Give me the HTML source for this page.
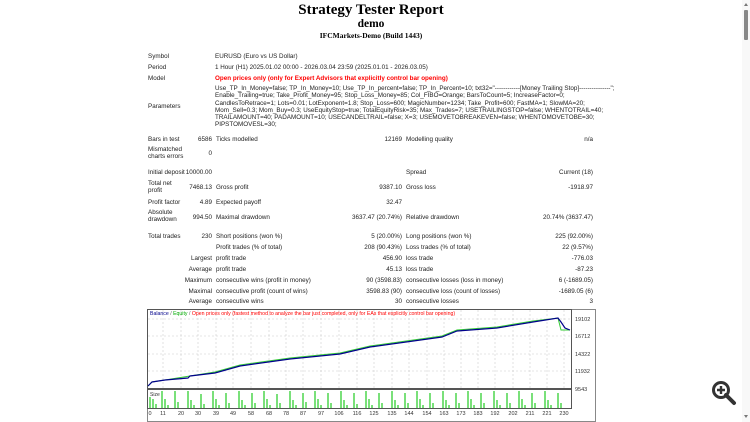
<!DOCTYPE html>
<html><head><meta charset="utf-8"><style>
body{margin:0;width:750px;height:422px;background:#fff;overflow:hidden;position:relative;font-family:"Liberation Sans",Tahoma,sans-serif;}
.t{position:absolute;font-size:6.3px;color:#222;white-space:nowrap;line-height:7.3px}
.r{text-align:right}
.h{position:absolute;left:0;width:742px;text-align:center;font-family:"Liberation Serif",serif;font-weight:bold;color:#000}
</style></head><body>
<div class="h" style="top:1px;font-size:15px;line-height:19px">Strategy Tester Report</div>
<div class="h" style="top:17px;font-size:11.5px;line-height:14px">demo</div>
<div class="h" style="top:31px;font-size:7.5px;line-height:10px">IFCMarkets-Demo (Build 1443)</div>

<div class="t" style="left:148px;top:53px">Symbol</div><div class="t" style="left:215px;top:53px">EURUSD (Euro vs US Dollar)</div>
<div class="t" style="left:148px;top:64px">Period</div><div class="t" style="left:215px;top:64px">1 Hour (H1) 2025.01.02 00:00 - 2026.03.04 23:59 (2025.01.01 - 2026.03.05)</div>
<div class="t" style="left:148px;top:75px">Model</div><div class="t" style="left:215px;top:75px;color:#f00;font-weight:bold">Open prices only (only for Expert Advisors that explicitly control bar opening)</div>
<div class="t" style="left:148px;top:103px">Parameters</div>
<div class="t" style="left:215px;top:85px">Use_TP_In_Money=false; TP_In_Money=10; Use_TP_In_percent=false; TP_In_Percent=10; txt32="------------[Money Trailing Stop]---------------";<br>Enable_Trailing=true; Take_Profit_Money=95; Stop_Loss_Money=85; Col_FIBO=Orange; BarsToCount=5; IncreaseFactor=0;<br>CandlesToRetrace=1; Lots=0.01; LotExponent=1.8; Stop_Loss=600; MagicNumber=1234; Take_Profit=600; FastMA=1; SlowMA=20;<br>Mom_Sell=0.3; Mom_Buy=0.3; UseEquityStop=true; TotalEquityRisk=35; Max_Trades=7; USETRAILINGSTOP=false; WHENTOTRAIL=40;<br>TRAILAMOUNT=40; PADAMOUNT=10; USECANDELTRAIL=false; X=3; USEMOVETOBREAKEVEN=false; WHENTOMOVETOBE=30;<br>PIPSTOMOVESL=30;</div>
<div class="t" style="left:148px;top:136px">Bars in test</div><div class="t r" style="left:160px;width:52px;top:136px">6586</div>
<div class="t" style="left:216px;top:136px">Ticks modelled</div><div class="t r" style="left:330px;width:72px;top:136px">12169</div>
<div class="t" style="left:406px;top:136px">Modelling quality</div><div class="t r" style="left:520px;width:73px;top:136px">n/a</div>
<div class="t" style="left:148px;top:146px">Mismatched<br>charts errors</div><div class="t r" style="left:160px;width:52px;top:150px">0</div>

<div class="t" style="left:148px;top:169px">Initial deposit</div><div class="t r" style="left:160px;width:52px;top:169px">10000.00</div>
<div class="t" style="left:406px;top:169px">Spread</div><div class="t r" style="left:500px;width:93px;top:169px">Current (18)</div>
<div class="t" style="left:148px;top:180px">Total net<br>profit</div><div class="t r" style="left:160px;width:52px;top:184px">7468.13</div>
<div class="t" style="left:216px;top:184px">Gross profit</div><div class="t r" style="left:330px;width:72px;top:184px">9387.10</div>
<div class="t" style="left:406px;top:184px">Gross loss</div><div class="t r" style="left:500px;width:93px;top:184px">-1918.97</div>
<div class="t" style="left:148px;top:199px">Profit factor</div><div class="t r" style="left:160px;width:52px;top:199px">4.89</div>
<div class="t" style="left:216px;top:199px">Expected payoff</div><div class="t r" style="left:330px;width:72px;top:199px">32.47</div>
<div class="t" style="left:148px;top:209px">Absolute<br>drawdown</div><div class="t r" style="left:160px;width:52px;top:214px">994.50</div>
<div class="t" style="left:216px;top:214px">Maximal drawdown</div><div class="t r" style="left:300px;width:102px;top:214px">3637.47 (20.74%)</div>
<div class="t" style="left:406px;top:214px">Relative drawdown</div><div class="t r" style="left:500px;width:93px;top:214px">20.74% (3637.47)</div>
<div class="t" style="left:148px;top:233px">Total trades</div><div class="t r" style="left:160px;width:52px;top:233px">230</div>
<div class="t" style="left:216px;top:233px">Short positions (won %)</div><div class="t r" style="left:300px;width:102px;top:233px">5 (20.00%)</div>
<div class="t" style="left:406px;top:233px">Long positions (won %)</div><div class="t r" style="left:500px;width:93px;top:233px">225 (92.00%)</div>
<div class="t" style="left:216px;top:244px">Profit trades (% of total)</div><div class="t r" style="left:300px;width:102px;top:244px">208 (90.43%)</div>
<div class="t" style="left:406px;top:244px">Loss trades (% of total)</div><div class="t r" style="left:500px;width:93px;top:244px">22 (9.57%)</div>
<div class="t r" style="left:150px;width:62px;top:255px">Largest</div><div class="t" style="left:216px;top:255px">profit trade</div><div class="t r" style="left:300px;width:102px;top:255px">456.90</div>
<div class="t" style="left:406px;top:255px">loss trade</div><div class="t r" style="left:500px;width:93px;top:255px">-776.03</div>
<div class="t r" style="left:150px;width:62px;top:266px">Average</div><div class="t" style="left:216px;top:266px">profit trade</div><div class="t r" style="left:300px;width:102px;top:266px">45.13</div>
<div class="t" style="left:406px;top:266px">loss trade</div><div class="t r" style="left:500px;width:93px;top:266px">-87.23</div>
<div class="t r" style="left:150px;width:62px;top:277px">Maximum</div><div class="t" style="left:216px;top:277px">consecutive wins (profit in money)</div><div class="t r" style="left:300px;width:102px;top:277px">90 (3598.83)</div>
<div class="t" style="left:406px;top:277px">consecutive losses (loss in money)</div><div class="t r" style="left:500px;width:93px;top:277px">6 (-1689.05)</div>
<div class="t r" style="left:150px;width:62px;top:288px">Maximal</div><div class="t" style="left:216px;top:288px">consecutive profit (count of wins)</div><div class="t r" style="left:300px;width:102px;top:288px">3598.83 (90)</div>
<div class="t" style="left:406px;top:288px">consecutive loss (count of losses)</div><div class="t r" style="left:500px;width:93px;top:288px">-1689.05 (6)</div>
<div class="t r" style="left:150px;width:62px;top:298px">Average</div><div class="t" style="left:216px;top:298px">consecutive wins</div><div class="t r" style="left:300px;width:102px;top:298px">30</div>
<div class="t" style="left:406px;top:298px">consecutive losses</div><div class="t r" style="left:500px;width:93px;top:298px">3</div>

<svg style="position:absolute;left:0;top:0" width="750" height="422" font-family="Liberation Sans, sans-serif">
<rect x="147.5" y="309.5" width="448" height="112" fill="#fff" stroke="#888"/>
<rect x="147.5" y="309.5" width="424" height="79" fill="#fff" stroke="#555"/>
<rect x="147.5" y="389.5" width="424" height="19" fill="#fff" stroke="#555"/>
<g stroke="#ccc" stroke-dasharray="2,2" stroke-width="0.6">
<path d="M148 319H571M148 336H571M148 354H571M148 371H571"/>
<path d="M163 310V388M181 310V388M198 310V388M216 310V388M233 310V388M251 310V388M269 310V388M286 310V388M303 310V388M321 310V388M339 310V388M357 310V388M374 310V388M392 310V388M409 310V388M427 310V388M444 310V388M461 310V388M478 310V388M495 310V388M513 310V388M530 310V388M547 310V388M564 310V388"/>
</g>
<g font-size="5.5" fill="#333">
<text x="575" y="321">19102</text><text x="575" y="338">16712</text><text x="575" y="356">14322</text><text x="575" y="373">11932</text><text x="575" y="391">9543</text>
</g>
<text x="150" y="315" font-size="5.2"><tspan fill="#00008b">Balance</tspan><tspan fill="#666"> / </tspan><tspan fill="#0a0">Equity</tspan><tspan fill="#666"> / </tspan><tspan fill="#f00">Open prices only (fastest method to analyze the bar just completed, only for EAs that explicitly control bar opening)</tspan></text>
<polyline fill="none" stroke="#3c3" stroke-width="1" points="148,386 152,382 165,380 190,376 215,372 240,365 290,358 340,353 370,346 442,336 457,330 497,327 533,321 558,318 561,330 570,330"/>
<polyline fill="none" stroke="#00008b" stroke-width="1.2" points="148,386 152,382 165,380 188,378 190,376 215,373 240,366 290,359 340,354 370,347 442,337 457,331 497,328 533,322 558,318 561,322 565,328 570,330"/>
<text x="150" y="396" font-size="5" fill="#333">Size</text>
<g stroke="#2c2" stroke-width="1.2">
<path d="M150 408v-11M153 408v-9M156 408v-4M162 408v-17M165 408v-9M168 408v-3M175 408v-17M178 408v-6M188 408v-17M191 408v-8M194 408v-3M201 408v-14M204 408v-4M213 408v-17M216 408v-9M219 408v-3M226 408v-15M229 408v-5M239 408v-17M242 408v-8M245 408v-3M252 408v-15M255 408v-5M264 408v-17M267 408v-9M270 408v-3M277 408v-14M280 408v-5M290 408v-17M293 408v-8M296 408v-3M303 408v-15M306 408v-6M315 408v-17M318 408v-9M321 408v-3M328 408v-15M331 408v-5M341 408v-17M344 408v-8M347 408v-3M354 408v-15M357 408v-4M366 408v-17M369 408v-9M372 408v-3M379 408v-15M382 408v-5M392 408v-17M395 408v-8M398 408v-3M405 408v-15M408 408v-5M417 408v-17M420 408v-9M423 408v-3M430 408v-15M433 408v-5M443 408v-17M446 408v-8M449 408v-3M456 408v-15M459 408v-5M468 408v-17M471 408v-9M474 408v-3M481 408v-15M484 408v-5M494 408v-17M497 408v-8M500 408v-3M507 408v-15M510 408v-5M519 408v-17M522 408v-9M525 408v-3M532 408v-15M535 408v-5M545 408v-17M548 408v-8M551 408v-3M558 408v-15M561 408v-5"/>
</g>
<g font-size="5.5" fill="#333" text-anchor="middle">
<text x="150" y="415">0</text><text x="163" y="415">11</text><text x="181" y="415">20</text><text x="198" y="415">30</text><text x="216" y="415">39</text><text x="233" y="415">49</text><text x="251" y="415">58</text><text x="269" y="415">68</text><text x="286" y="415">78</text><text x="303" y="415">87</text><text x="321" y="415">97</text><text x="339" y="415">106</text><text x="357" y="415">116</text><text x="374" y="415">125</text><text x="392" y="415">135</text><text x="409" y="415">144</text><text x="427" y="415">154</text><text x="444" y="415">163</text><text x="461" y="415">173</text><text x="478" y="415">183</text><text x="495" y="415">192</text><text x="513" y="415">202</text><text x="530" y="415">211</text><text x="547" y="415">221</text><text x="564" y="415">230</text>
</g>
<rect x="742" y="0" width="8" height="422" fill="#f8f8f8"/>
<rect x="744" y="10" width="4" height="30" fill="#888" rx="1"/>
<path d="M744 6L748 6L746 3Z" fill="#777"/>
<path d="M744 415L748 415L746 418Z" fill="#777"/>
<circle cx="721" cy="390" r="7.5" fill="none" stroke="#333" stroke-width="3"/>
<path d="M726 395L734 403" stroke="#333" stroke-width="4" stroke-linecap="round"/>
<path d="M717 390H725M721 386V394" stroke="#333" stroke-width="2.4"/>
</svg>
</body></html>
